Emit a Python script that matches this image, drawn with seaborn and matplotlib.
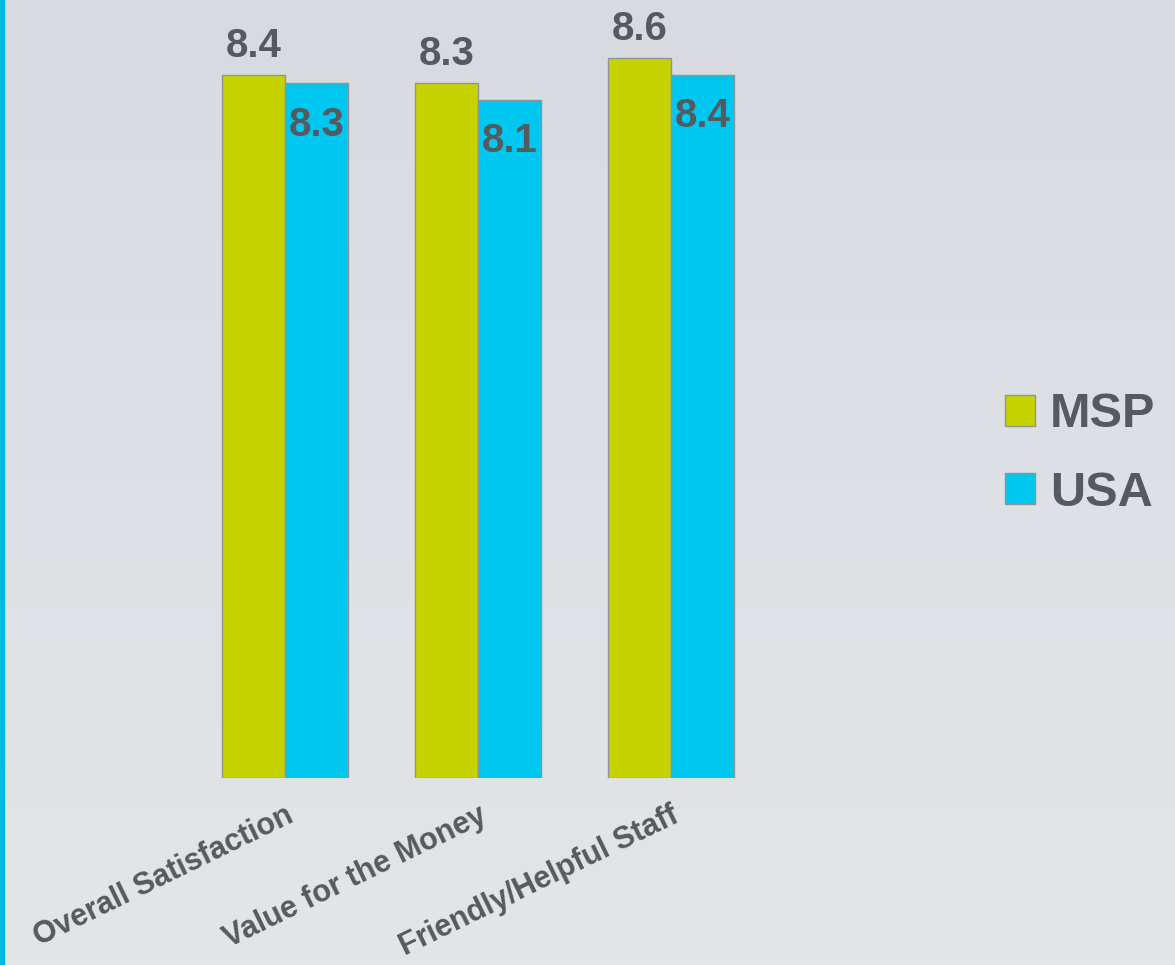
import matplotlib
matplotlib.use('Agg')
import matplotlib.pyplot as plt
from matplotlib.patches import Rectangle
from matplotlib.colors import LinearSegmentedColormap
import numpy as np
import seaborn as sns
import pandas as pd

categories = ["Overall Satisfaction", "Value for the Money", "Friendly/Helpful Staff"]
series_names = ["MSP", "USA"]
msp = [8.4, 8.3, 8.6]
usa = [8.3, 8.1, 8.4]

df = pd.DataFrame({
    "category": categories * 2,
    "value": msp + usa,
    "series": [series_names[0]] * 3 + [series_names[1]] * 3,
})

sns.set_theme(style="white")
plt.rcParams['font.family'] = ['Liberation Sans', 'DejaVu Sans']

TXT = '#555a5e'
fig = plt.figure(figsize=(11.75, 9.65), dpi=100)
fig.patch.set_facecolor('#dfe2e6')

# subtle background gradient
bg = fig.add_axes([0, 0, 1, 1], zorder=-10)
grad = np.linspace(0, 1, 256).reshape(-1, 1)
cmap = LinearSegmentedColormap.from_list('bg', ['#d7dbe0', '#e3e5e8'])
bg.imshow(grad, aspect='auto', cmap=cmap, extent=[0, 1, 0, 1], origin='upper')
bg.set_axis_off()

ax = fig.add_axes([188.5 / 1175, 187 / 965, 579 / 1175, 778 / 965])
ax.set_facecolor('none')

sns.barplot(data=df, x='category', y='value', hue='series',
            palette={'MSP': '#c6d300', 'USA': '#00c7ef'},
            width=0.65, saturation=1, ax=ax,
            edgecolor='#8f9498', linewidth=1.0, errorbar=None)
ax.set_xlim(-0.5, 2.5)
ax.set_ylim(0, 9.295)

for i, cont in enumerate(ax.containers):
    for bar in cont:
        x = bar.get_x() + bar.get_width() / 2
        h = bar.get_height()
        if i == 0:
            ax.annotate(f"{h:.1f}", xy=(x, h), xytext=(0, 13), textcoords='offset points',
                        ha='center', va='baseline', fontsize=29, fontweight='bold', color=TXT)
        else:
            ax.annotate(f"{h:.1f}", xy=(x, h), xytext=(0, -16), textcoords='offset points',
                        ha='center', va='top', fontsize=29, fontweight='bold', color=TXT)

for s in ax.spines.values():
    s.set_visible(False)
ax.set_yticks([])
ax.set_xlabel('')
ax.set_ylabel('')
ax.tick_params(axis='x', length=0, pad=16)
for lab in ax.get_xticklabels():
    lab.set_rotation(26)
    lab.set_ha('right')
    lab.set_va('top')
    lab.set_rotation_mode('anchor')
    lab.set_fontsize(22)
    lab.set_fontweight('bold')
    lab.set_color(TXT)

handles, labels = ax.get_legend_handles_labels()
ax.legend(handles, labels, loc='center left', bbox_to_anchor=(1005 / 1175, 1 - 454 / 965),
          bbox_transform=fig.transFigure, frameon=False,
          prop={'size': 35, 'weight': 'bold'}, labelcolor=TXT,
          handlelength=0.62, handleheight=0.62, handletextpad=0.3, labelspacing=0.68,
          borderpad=0, borderaxespad=0)

fig.add_artist(Rectangle((0, 0), 4 / 1175, 1, transform=fig.transFigure,
                         color='#00b8e4', zorder=10))

fig.savefig('out.png', dpi=100, facecolor=fig.get_facecolor())
